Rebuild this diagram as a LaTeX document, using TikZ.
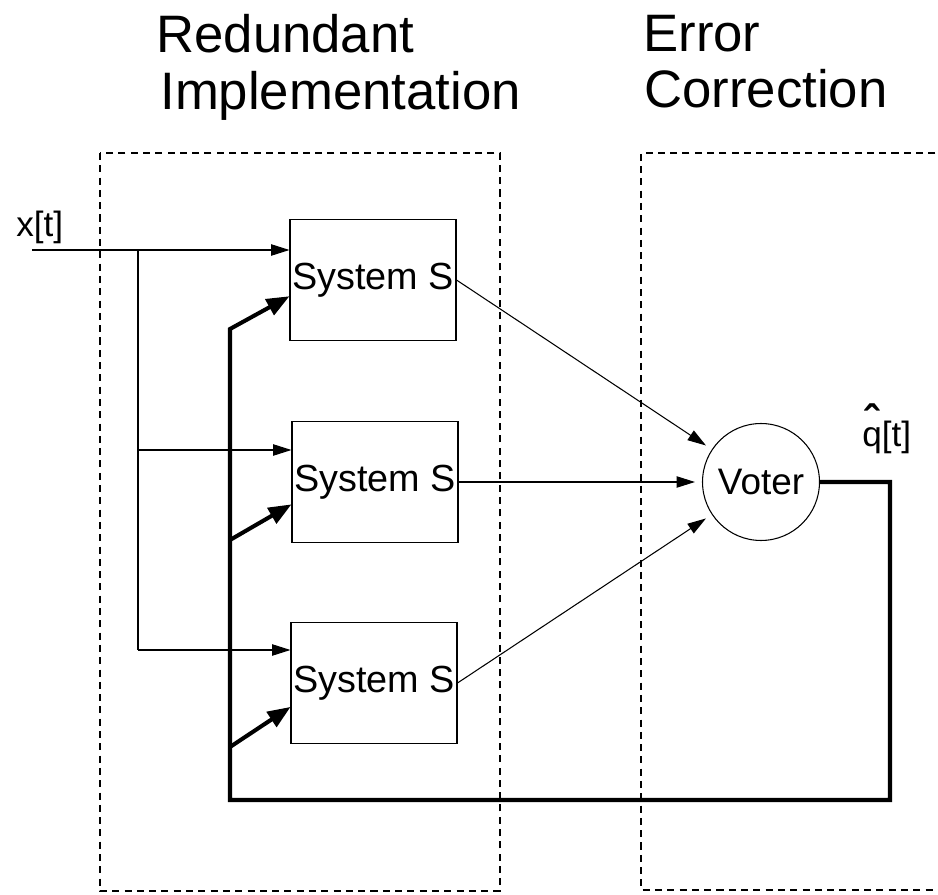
\documentclass[tikz,border=0pt]{standalone}
\usepackage{fontspec}
\setmainfont{Liberation Sans}
\usetikzlibrary{arrows.meta}

\begin{document}
\begin{tikzpicture}[x=0.02cm, y=-0.02cm,
  sys/.style={rectangle, draw, line width=0.6pt, minimum width=3.32cm, minimum height=2.42cm, inner sep=0pt, font=\fontsize{21.5}{25}\selectfont},
  lbl/.style={inner sep=0pt, anchor=base west, font=\fontsize{20}{24}\selectfont},
  ttl/.style={inner sep=0pt, anchor=base west, font=\fontsize{30}{36}\selectfont},
  sig/.style={-{Triangle[length=10.5pt, width=6.5pt]}, line width=0.6pt},
  fb/.style={-{Triangle[length=13pt, width=10pt]}, line width=2.3pt},
  grp/.style={dash pattern=on 4pt off 3pt, line width=1.1pt}]
\useasboundingbox (0,0) rectangle (938,895);

\draw[grp] (100,153) rectangle (500,891);
\draw[grp] (960,153) -- (641,153) -- (641,890) -- (960,890);

\node[ttl] (t1) at (156,53) {Redundant};
\node[ttl] (t2) at (160,110) {Implementation};
\node[ttl] (t3) at (643,52) {Error};
\node[ttl] (t4) at (644,108) {Correction};

\node[sys] (s1) at (373,280) {System S};
\node[sys] (s2) at (375,482) {System S};
\node[sys] (s3) at (374,683) {System S};
\node[circle, draw, line width=0.6pt, minimum size=2.34cm, inner sep=0pt, font=\fontsize{21}{25}\selectfont] (v) at (761,482) {Voter};

\node[lbl] (x) at (16,237) {x[t]};
\node[lbl] (q) at (862,447) {\ooalign{q\cr\hidewidth\raisebox{6pt}{\bfseries\fontsize{25}{25}\selectfont\char"02C6}\hidewidth\cr}[t]};

\coordinate (xin) at (32,250);
\coordinate (b1) at (138,250);
\coordinate (b2) at (138,450);
\coordinate (b3) at (138,650);
\coordinate (fbr) at (890,800);
\coordinate (fbl) at (230,800);
\coordinate (f1) at (230,329);
\coordinate (f2) at (230,540);
\coordinate (f3) at (230,747);

\draw[sig] (xin) -- (xin -| s1.west);
\draw[line width=0.6pt] (b1) -- (b3);
\draw[sig] (b2) -- (b2 -| s2.west);
\draw[sig] (b3) -- (b3 -| s3.west);

\draw[sig, shorten >=4pt] (s1.east) -- (v);
\draw[sig, shorten >=4pt] (s2.east) -- (v);
\draw[sig, shorten >=4pt] (s3.east) -- (v);

\draw[fb] (v.east) -| (fbr) -- (fbl) -- (f1) -- (s1.191);
\draw[fb] (f2) -- (s2.195);
\draw[fb] (f3) -- (s3.196);

\end{tikzpicture}
\end{document}
